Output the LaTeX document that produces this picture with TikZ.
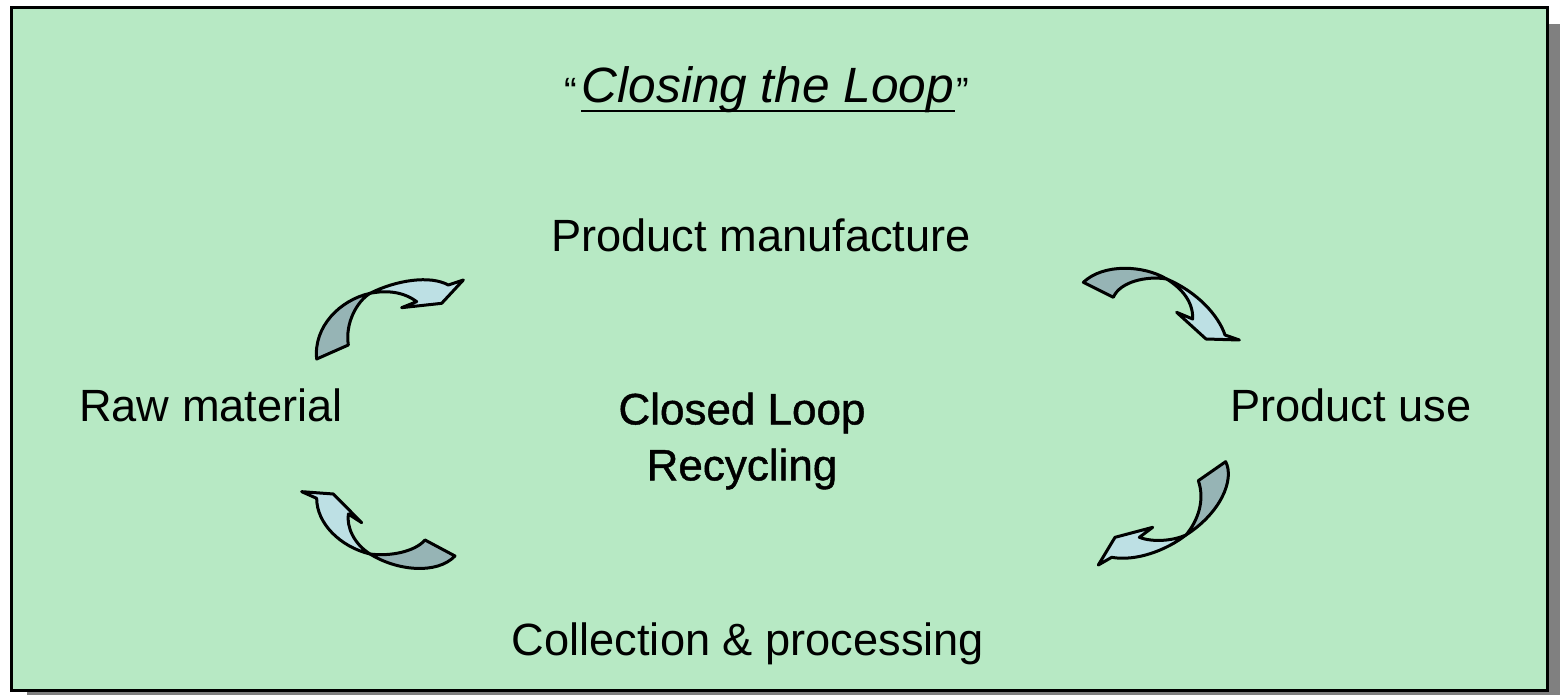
\documentclass[tikz,border=0pt]{standalone}
\usepackage{fontspec}
\setmainfont{Liberation Sans}
\newfontfamily\medfont[FakeBold=1]{Liberation Sans}
\definecolor{bggreen}{RGB}{183,233,196}
\definecolor{arrowlight}{RGB}{189,224,228}
\definecolor{arrowdark}{RGB}{150,180,181}
\definecolor{shadowgray}{RGB}{128,128,128}
\begin{document}
\begin{tikzpicture}[x=0.5pt,y=-0.5pt,
    lbl/.style={font=\fontsize{22.6}{27}\selectfont,inner sep=0pt},
    quote/.style={font=\fontsize{19}{22}\selectfont,inner sep=0pt},
    back/.style={fill=arrowdark,draw,line width=1.5pt,line join=round},
    front/.style={fill=arrowlight,draw,line width=1.5pt,line join=round}]
        \useasboundingbox (0,0) rectangle (1560,695);
        % frame with shadow
        \fill[shadowgray] (27,24) rectangle (1560,695);
        \draw[fill=bggreen,line width=1.5pt] (11,8) rectangle (1547,690);
        % title
        \node[font=\fontsize{24.8}{30}\selectfont\itshape,inner sep=0pt,anchor=base] (ttl) at (768,103) {Closing the Loop};
        \draw[line width=1.2pt] ([yshift=-4pt]ttl.base west) -- ([yshift=-4pt]ttl.base east);
        \node[quote,anchor=base east] (lq) at ([xshift=-2pt,yshift=-1pt]ttl.base west) {“};
        \node[quote,anchor=base west] (rq) at ([xshift=1pt,yshift=-1pt]ttl.base east) {”};
        % stations
        \node[lbl,anchor=base] (manu) at (761,252) {Product manufacture};
        \node[lbl,anchor=base] (raw) at (211,422) {Raw material};
        \node[lbl,anchor=base] (use) at (1351,422) {Product use};
        \node[lbl,anchor=base] (coll) at (748,655) {Collection \& processing};
        \node[font=\fontsize{22}{28}\selectfont\medfont,align=center,inner sep=0pt] (loop) at (742,441) {Closed Loop\\Recycling};
        % arrows
        \begin{scope}[shift={(290,260)},scale=1/3]
        \draw[back] (80,297) .. controls (70,200) and (150,120) .. (240,100) .. controls (200,125) and (165,190) .. (175,255) -- cycle;
        \draw[front] (240,100) .. controls (320,60) and (420,45) .. (475,75) -- (520,60) -- (455,130) -- (335,143) -- (380,125) .. controls (340,95) and (290,90) .. (240,100) -- cycle;
        \end{scope}
        \begin{scope}[shift={(1070,255)},scale=1/3]
        \draw[back] (40,82) .. controls (100,25) and (220,30) .. (290,72) .. controls (230,62) and (150,80) .. (130,127) -- cycle;
        \draw[front] (290,72) .. controls (380,110) and (445,180) .. (465,240) -- (508,255) -- (408,252) -- (320,172) -- (368,192) .. controls (370,140) and (335,100) .. (290,72) -- cycle;
        \end{scope}
        \begin{scope}[shift={(1080,450)},scale=1/3]
        \draw[back] (437,35) -- (355,92) .. controls (375,150) and (355,210) .. (318,255) .. controls (420,190) and (465,90) .. (437,35) -- cycle;
        \draw[front] (318,255) .. controls (260,300) and (170,335) .. (95,322) -- (55,345) -- (105,262) -- (218,232) -- (178,262) .. controls (220,278) and (280,272) .. (318,255) -- cycle;
        \end{scope}
        \begin{scope}[shift={(290,480)},scale=1/3]
        \draw[back] (240,222) .. controls (300,230) and (375,215) .. (405,180) -- (495,228) .. controls (440,285) and (320,272) .. (240,222) -- cycle;
        \draw[front] (240,222) .. controls (190,190) and (170,140) .. (175,102) -- (215,128) -- (130,42) -- (35,35) -- (80,55) .. controls (80,130) and (150,200) .. (240,222) -- cycle;
        \end{scope}
\end{tikzpicture}
\end{document}
